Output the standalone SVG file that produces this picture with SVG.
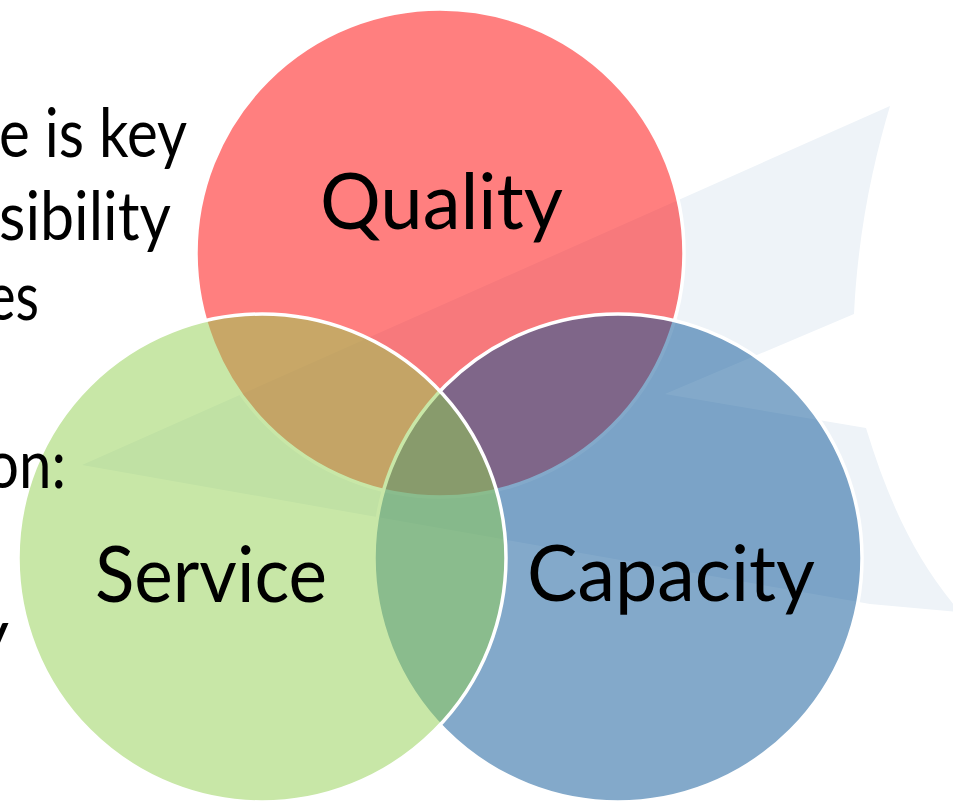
<svg xmlns="http://www.w3.org/2000/svg" width="953" height="803" viewBox="0 0 953 803">
  <style>
    .venn { stroke: #FFFFFF; stroke-width: 3.5; fill-opacity: 0.5; }
    .label { font-family: Lato, "Open Sans", "Liberation Sans", sans-serif; font-size: 78px; fill: #000000; }
    .body { font-family: Lato, "Open Sans", "Liberation Sans", sans-serif; font-size: 68px; fill: #000000; text-anchor: end; }
  </style>
  <rect x="0" y="0" width="953" height="803" fill="#FFFFFF"/>
  <g id="watermark">
    <path d="M 890,106 C 874,160 858,230 854,314 L 665,394 L 866,428 C 888,500 915,560 960,612 L 870,604 L 82,465 Z" fill="#EEF3F8"/>
  </g>
  <g id="quality">
    <circle class="venn" cx="440" cy="253" r="244" fill="#FF0000"/>
    <text class="label" x="320" y="229" textLength="243" lengthAdjust="spacingAndGlyphs">Quality</text>
  </g>
  <g id="capacity">
    <circle class="venn" cx="618" cy="558" r="244" fill="#085496"/>
    <text class="label" x="527" y="601" textLength="288" lengthAdjust="spacingAndGlyphs">Capacity</text>
  </g>
  <g id="service">
    <circle class="venn" cx="262" cy="558" r="244" fill="#92D050"/>
    <text class="label" x="95" y="602" textLength="232" lengthAdjust="spacingAndGlyphs">Service</text>
  </g>
  <g id="slide-text">
    <text class="body" x="187" y="157" textLength="188" lengthAdjust="spacingAndGlyphs">e is key</text>
    <text class="body" x="171" y="240" textLength="172" lengthAdjust="spacingAndGlyphs">sibility</text>
    <text class="body" x="39" y="320" textLength="52" lengthAdjust="spacingAndGlyphs">es</text>
    <text class="body" x="66" y="488" textLength="80" lengthAdjust="spacingAndGlyphs">on:</text>
    <text class="body" x="9" y="657">y</text>
  </g>
</svg>
